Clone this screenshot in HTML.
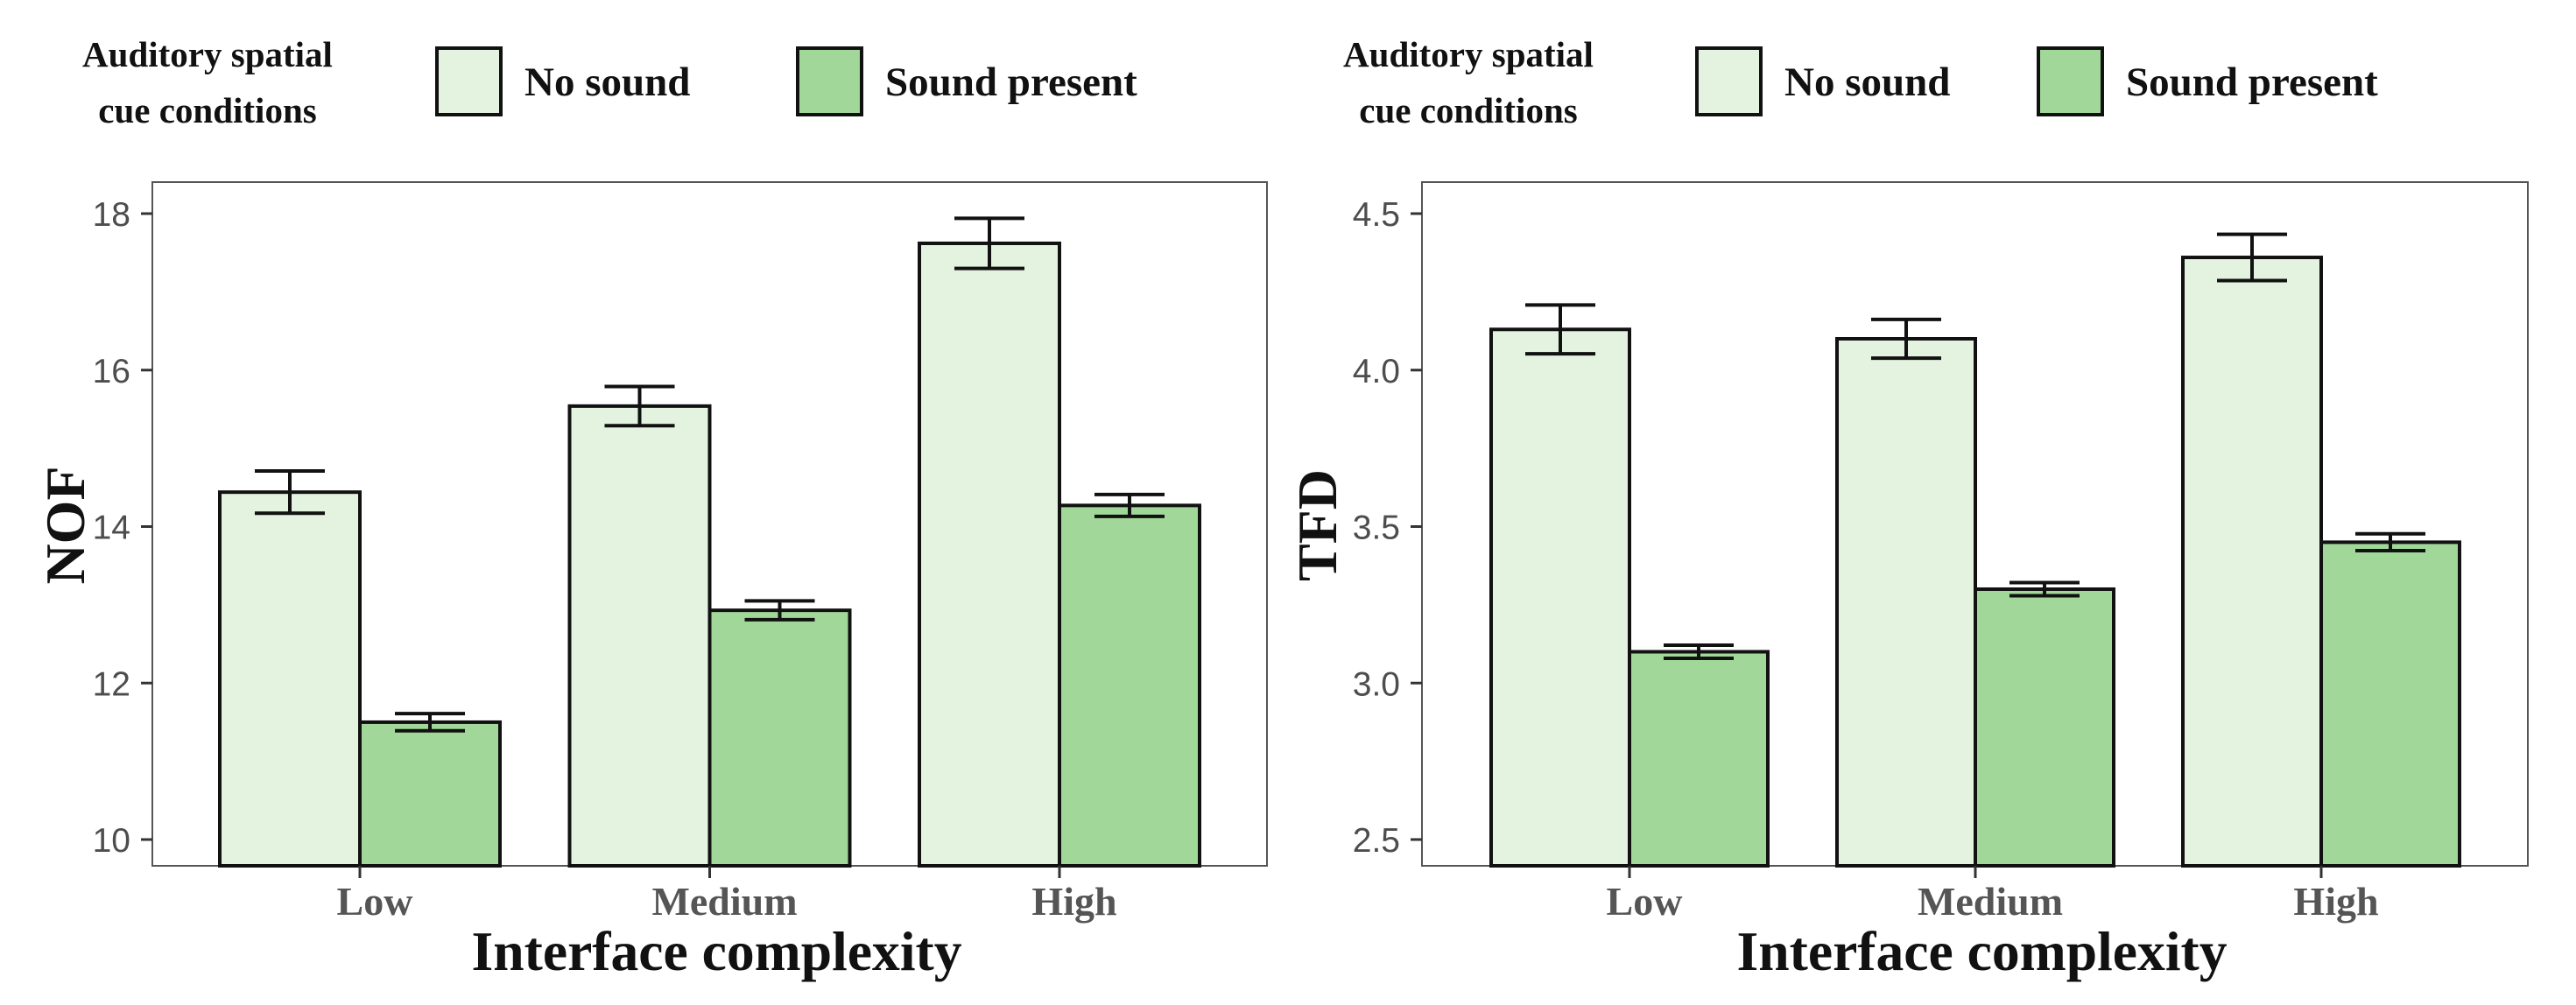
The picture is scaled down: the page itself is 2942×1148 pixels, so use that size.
<!DOCTYPE html>
<html><head><meta charset="utf-8"><style>
html,body{margin:0;padding:0;background:#fff;overflow:hidden;}
svg{display:block;}
</style></head><body>
<svg id="fig" width="2942" height="1148" viewBox="0 0 2942 1148" xmlns="http://www.w3.org/2000/svg"></svg>
<script>
const categories = ["Low", "Medium", "High"];
const seriesNames = ["No sound", "Sound present"];
const nofNoSound = [14.44, 15.54, 17.62];
const nofSound = [11.50, 12.93, 14.27];
const nofNoSoundErr = [0.27, 0.25, 0.32];
const nofSoundErr = [0.11, 0.12, 0.14];
const nofTicks = [10, 12, 14, 16, 18];
const nofTickLabels = ["10", "12", "14", "16", "18"];
const tfdNoSound = [4.13, 4.10, 4.36];
const tfdSound = [3.10, 3.30, 3.45];
const tfdNoSoundErr = [0.078, 0.062, 0.074];
const tfdSoundErr = [0.021, 0.021, 0.027];
const tfdTicks = [2.5, 3.0, 3.5, 4.0, 4.5];
const tfdTickLabels = ["2.5", "3.0", "3.5", "4.0", "4.5"];

const NS = "http://www.w3.org/2000/svg";
const svg = document.getElementById("fig");
const COLORS = ["#e3f3df", "#a1d899"];
function mk(tag, attrs, parent, text) {
  const e = document.createElementNS(NS, tag);
  for (const k in attrs) e.setAttribute(k, attrs[k]);
  if (text !== undefined) e.textContent = text;
  (parent || svg).appendChild(e);
  return e;
}

function panel(opt) {
  const g = mk("g", {});
  
  
  const L = opt.left, R = opt.right, T = 208, B = 989;
  const yTop = 244, yBot = 959;
  const vmax = opt.ticks[opt.ticks.length - 1], vmin = opt.ticks[0];
  const yScale = v => yBot - (v - vmin) / (vmax - vmin) * (yBot - yTop);
  const xCenter = i => opt.firstCenter + i * opt.spacing;
  const bw = opt.barW;

  const lg = mk("g", {}, g);
  
  
  const lt = mk("text", {x: opt.legTitleX, y: 76, "text-anchor": "middle", "font-family": "Liberation Serif, serif", "font-size": 41, "font-weight": "bold", fill: "#111"}, lg);
  
  
  mk("tspan", {x: opt.legTitleX, dy: 0}, lt, "Auditory spatial");
  mk("tspan", {x: opt.legTitleX, dy: 64}, lt, "cue conditions");
  for (let s = 0; s < 2; s++) {
    const key = mk("rect", {x: opt.keyX[s], y: 55, width: 73, height: 76, fill: COLORS[s], stroke: "#111", "stroke-width": 4}, lg);
    
    
    const t = mk("text", {x: opt.keyX[s] + 100, y: 109, "font-family": "Liberation Serif, serif", "font-size": 47, "font-weight": "bold", fill: "#111"}, lg, seriesNames[s]);
    
    
  }

  const frame = mk("rect", {x: L, y: T, width: R - L, height: B - T, fill: "#fff", stroke: "#555", "stroke-width": 2}, g);
  
  

  opt.ticks.forEach((v, i) => {
    const y = yScale(v);
    const tk = mk("line", {x1: L - 13, x2: L, y1: y, y2: y, stroke: "#333", "stroke-width": 3}, g);
    
    
    const tl = mk("text", {x: L - 25, y: y + 14, "text-anchor": "end", "font-family": "Liberation Sans, sans-serif", "font-size": 39, fill: "#4d4d4d"}, g, opt.tickLabels[i]);
    
    
  });

  const series = [opt.a, opt.b], errs = [opt.ae, opt.be];
  categories.forEach((c, i) => {
    const xc = xCenter(i);
    for (let s = 0; s < 2; s++) {
      const x = s === 0 ? xc - bw : xc;
      const v = series[s][i];
      const y = yScale(v);
      const bar = mk("rect", {x: x, y: y, width: bw, height: B - y, fill: COLORS[s], stroke: "#111", "stroke-width": 4}, g);
      
      
      const ex = x + bw / 2, e = errs[s][i];
      const y1 = yScale(v + e), y2 = yScale(v - e);
      const eb = mk("path", {d: `M${ex - 40},${y1}H${ex + 40}M${ex},${y1}V${y2}M${ex - 40},${y2}H${ex + 40}`, stroke: "#111", "stroke-width": 4, fill: "none"}, g);
      
      
    }
    const xt = mk("line", {x1: xc, x2: xc, y1: B, y2: B + 14, stroke: "#333", "stroke-width": 3}, g);
    
    
    const xl = mk("text", {x: xc + 17, y: 1045, "text-anchor": "middle", "font-family": "Liberation Serif, serif", "font-size": 46, "font-weight": "bold", fill: "#555"}, g, c);
    
    
  });

  const xa = mk("text", {x: (L + R) / 2 + 8, y: 1108, "text-anchor": "middle", "font-family": "Liberation Serif, serif", "font-size": 64, "font-weight": "bold", fill: "#111", textLength: 560, lengthAdjust: "spacingAndGlyphs"}, g, "Interface complexity");
  
  
  const ya = mk("text", {x: 0, y: 0, transform: `translate(${opt.yTitleX},600) rotate(-90)`, "text-anchor": "middle", "font-family": "Liberation Serif, serif", "font-size": 64, "font-weight": "bold", fill: "#111"}, g, opt.yTitle);
  
  
}
panel({name: "nof-chart", left: 174, right: 1447,
  firstCenter: 411, spacing: 399.5, barW: 160, ticks: nofTicks, tickLabels: nofTickLabels,
  a: nofNoSound, b: nofSound, ae: nofNoSoundErr, be: nofSoundErr,
  legTitleX: 237, keyX: [499, 911], yTitle: "NOF", yTitleX: 96});
panel({name: "tfd-chart", left: 1624, right: 2887,
  firstCenter: 1861, spacing: 395, barW: 158, ticks: tfdTicks, tickLabels: tfdTickLabels,
  a: tfdNoSound, b: tfdSound, ae: tfdNoSoundErr, be: tfdSoundErr,
  legTitleX: 1677, keyX: [1938, 2328], yTitle: "TFD", yTitleX: 1526});
</script>
</body></html>
